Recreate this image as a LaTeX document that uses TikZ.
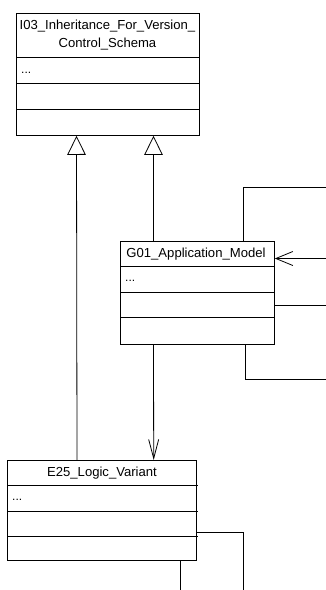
\documentclass[tikz,border=0pt]{standalone}
\usepackage{fontspec}
\setmainfont{Liberation Sans}
\usetikzlibrary{arrows.meta}
\tikzset{
  cls/.style={draw, line width=0.8pt, rectangle, inner sep=0pt, anchor=north west},
  sep/.style={line width=0.8pt},
  title/.style={font=\fontsize{13.1}{18.5}\selectfont, align=center, inner sep=0pt},
  dots/.style={font=\fontsize{12}{14}\selectfont, anchor=west, inner sep=0pt},
  conn/.style={line width=0.8pt},
  inh/.style={conn, -{Triangle[open, length=19pt, width=18.5pt, line width=0.8pt]}},
  assoc/.style={conn, -{Straight Barb[length=19pt, width=10pt, line width=0.8pt]}},
  assocside/.style={conn, -{Straight Barb[length=17pt, width=14pt, line width=0.8pt]}}
}
\begin{document}
\begin{tikzpicture}[x=1pt, y=-1pt]
\useasboundingbox (0,0) rectangle (326,590);

% I03 class
\node[cls, minimum width=183pt, minimum height=122pt] (I03) at (16,13) {};
\draw[sep] (16,57) -- (199,57);
\draw[sep] (16,83) -- (199,83);
\draw[sep] (16,109) -- (199,109);
\node[title] (I03t) at (107.5,35) {I03\_Inheritance\_For\_Version\_\\Control\_Schema};
\node[dots] (I03d) at (21,73) {...};

% G01 class
\node[cls, minimum width=154pt, minimum height=102.5pt] (G01) at (120,241) {};
\draw[sep] (120,266.7) -- (274,266.7);
\draw[sep] (120,292) -- (274,292);
\draw[sep] (120,317.7) -- (274,317.7);
\node[title] (G01t) at (196,254) {G01\_Application\_Model};
\node[dots] (G01d) at (125,281) {...};

% E25 class
\node[cls, minimum width=189pt, minimum height=99.5pt] (E25) at (7,460) {};
\draw[sep] (7,485.7) -- (197.7,485.7);
\draw[sep] (7,511) -- (197.7,511);
\draw[sep] (7,536.7) -- (197.7,536.7);
\node[title] (E25t) at (102,473) {E25\_Logic\_Variant};
\node[dots] (E25d) at (12,500) {...};

% generalizations
\draw[inh] ([xshift=70pt]E25.north west) -- ([xshift=60.5pt]I03.south west);
\draw[inh] ([xshift=33.5pt]G01.north west) -- ([xshift=137.5pt]I03.south west);

% association G01 -> E25
\draw[assoc] ([xshift=33.5pt]G01.south west) -- ([xshift=146.7pt]E25.north west);

% free-ended connectors to the right / bottom
\coordinate (r1) at (326,187);
\coordinate (r2) at (326,258.5);
\coordinate (r3) at (326,305.7);
\coordinate (r4) at (326,379);
\coordinate (b1) at (243.7,590);
\coordinate (b2) at (180,590);

\draw[conn] ([xshift=123pt]G01.north west) |- (r1);
\draw[assocside] (r2) -- ([yshift=-17.5pt]G01.north east);
\draw[conn] ([yshift=-64.7pt]G01.north east) -- (r3);
\draw[conn] ([xshift=125pt]G01.south west) |- (r4);
\draw[conn] ([yshift=-72.3pt]E25.north east) -| (b1);
\draw[conn] ([xshift=173pt]E25.south west) -- (b2);
\end{tikzpicture}
\end{document}
